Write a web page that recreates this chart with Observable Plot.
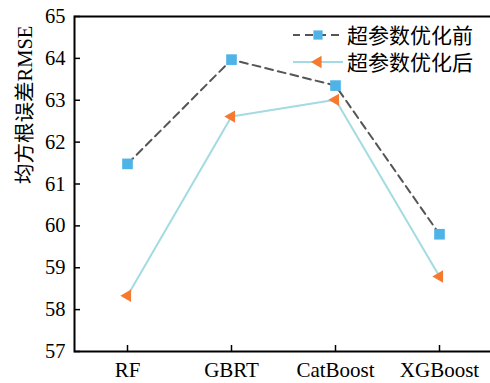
<!DOCTYPE html>
<html>
<head>
<meta charset="utf-8">
<script src="https://cdn.jsdelivr.net/npm/d3@7"></script>
<script src="https://cdn.jsdelivr.net/npm/@observablehq/plot@0.6"></script>
<style>
  html, body { margin: 0; padding: 0; background: #fff; }
  #wrap { position: relative; width: 490px; height: 383px; }
  #legend { position: absolute; left: 0; top: 0; pointer-events: none; }
  #wrap svg text { font-family: "Liberation Serif", "Times New Roman", serif, "Noto Sans CJK SC"; }
  #legend text { font-family: "Noto Sans CJK SC", sans-serif; }
</style>
</head>
<body>
<div id="wrap"></div>
<script>
const models = ["RF", "GBRT", "CatBoost", "XGBoost"];
const before = [61.48, 63.97, 63.35, 59.80];
const after = [58.33, 62.61, 63.01, 58.79];
const seriesNames = ["超参数优化前", "超参数优化后"];
const yTicks = [57, 58, 59, 60, 61, 62, 63, 64, 65];
const yLabel = "均方根误差RMSE";

const cBlue = "#4fb3e8";
const cOrange = "#f5792e";
const cLight = "#a3dbe3";
const cDash = "#555555";

const rowsBefore = models.map((m, i) => ({model: m, v: before[i]}));
const rowsAfter = models.map((m, i) => ({model: m, v: after[i]}));

const W = 490, H = 383, mL = 74, mR = -2, mT = 16, mB = 32;
const pw = W - mL - mR, ph = H - mT - mB;

const chart = Plot.plot({
  width: W, height: H,
  marginLeft: mL, marginRight: mR, marginTop: mT, marginBottom: mB,
  style: {fontSize: "20px", color: "#000", background: "#fff"},
  x: {type: "point", domain: models, padding: 0.5},
  y: {domain: [57, 65]},
  marks: [
    Plot.axisX({tickSize: 0, tickPadding: 11, fontSize: 21, label: null}),
    Plot.axisY(yTicks, {tickSize: 0, tickPadding: 9, fontSize: 20.5, label: null}),
    Plot.ruleY(yTicks, {y: d => d, insetRight: pw - 6, stroke: "#000", strokeWidth: 1.5}),
    Plot.ruleX(models, {x: d => d, insetTop: ph - 6, stroke: "#000", strokeWidth: 1.5}),
    Plot.text([yLabel], {frameAnchor: "left", rotate: -90, dx: -49, fontSize: 20.5, fill: "#000"}),
    Plot.line(rowsAfter, {x: "model", y: "v", stroke: cLight, strokeWidth: 2}),
    Plot.line(rowsBefore, {x: "model", y: "v", stroke: cDash, strokeWidth: 2, strokeDasharray: "8,5"}),
    Plot.dot(rowsBefore, {x: "model", y: "v", symbol: "square", r: 6, fill: cBlue, stroke: "none"}),
    Plot.dot(rowsAfter, {x: "model", y: "v", symbol: "triangle", rotate: -90, r: 4.6, fill: cOrange, stroke: "none"}),
    Plot.frame({stroke: "#000", strokeWidth: 2})
  ]
});
document.getElementById("wrap").appendChild(chart);

// legend overlay
const leg = d3.select("#wrap").append("svg").attr("id", "legend")
  .attr("width", W).attr("height", 90);
const rows = [
  {y: 35, name: seriesNames[0], dash: "8,5", stroke: cDash, sym: d3.symbolSquare, size: 85, fill: cBlue, rot: 0},
  {y: 62, name: seriesNames[1], dash: null, stroke: cLight, sym: d3.symbolTriangle, size: 65, fill: cOrange, rot: -90}
];
rows.forEach(r => {
  const l = leg.append("line").attr("x1", 293).attr("x2", 343).attr("y1", r.y).attr("y2", r.y)
    .attr("stroke", r.stroke).attr("stroke-width", 2);
  if (r.dash) l.attr("stroke-dasharray", r.dash).attr("stroke-dashoffset", 1);
  leg.append("path").attr("d", d3.symbol(r.sym, r.size)())
    .attr("transform", `translate(318,${r.y}) rotate(${r.rot})`).attr("fill", r.fill);
  leg.append("text").attr("x", 347).attr("y", r.y).attr("dy", "0.36em")
    .attr("font-size", 21).attr("fill", "#000").text(r.name);
});
</script>
</body>
</html>
